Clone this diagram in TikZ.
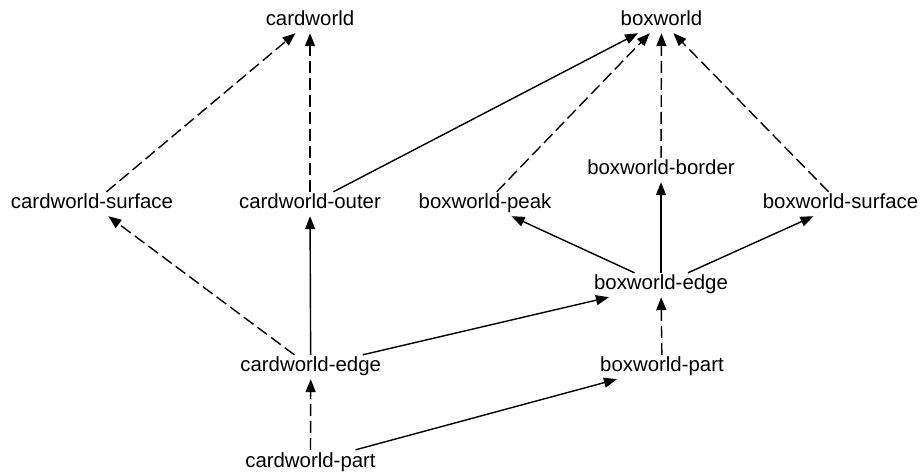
\documentclass[tikz,border=0pt]{standalone}
\usepackage{fontspec}
\setmainfont{Liberation Sans}
\usetikzlibrary{arrows.meta}

\begin{document}
\begin{tikzpicture}[x=1pt, y=-1pt,
  lbl/.style={anchor=base, inner xsep=2pt, inner ysep=0pt,
    text height=14pt, text depth=4pt, minimum height=24pt,
    font=\fontsize{20.4}{24}\selectfont},
  dep/.style={line width=1.4pt, -{Triangle[length=13pt, width=10pt]}},
  weak/.style={dep, dash pattern=on 12pt off 5pt}
]
\useasboundingbox (0,0) rectangle (922,473);

% modules, placed by baseline
\node[lbl] (cw)   at (310,26)    {cardworld};
\node[lbl] (bw)   at (661.5,26)  {boxworld};
\node[lbl] (cws)  at (92,209)    {cardworld-surface};
\node[lbl] (cwo)  at (310,209)   {cardworld-outer};
\node[lbl] (bwp)  at (485,209)   {boxworld-peak};
\node[lbl] (bwb)  at (661,175)   {boxworld-border};
\node[lbl] (bws)  at (840.5,209) {boxworld-surface};
\node[lbl] (bwe)  at (661,290)   {boxworld-edge};
\node[lbl] (cwe)  at (310.7,372) {cardworld-edge};
\node[lbl] (bwpt) at (662,372)   {boxworld-part};
\node[lbl] (cwp)  at (310.5,467) {cardworld-part};

% dependencies
\draw[weak] (cws) -- (cw);
\draw[weak] (cwo) -- (cw);
\draw[dep]  (cwo) -- (bw);
\draw[weak] (bwp) -- (bw);
\draw[weak] (bwb) -- (bw);
\draw[weak] (bws) -- (bw);
\draw[weak] (cwe) -- (cws);
\draw[dep]  (cwe) -- (cwo);
\draw[dep]  (cwe) -- (bwe);
\draw[dep]  (bwe) -- (bwp);
\draw[dep]  (bwe) -- (bwb);
\draw[dep]  (bwe) -- (bws);
\draw[weak] (bwpt) -- (bwe);
\draw[weak] (cwp) -- (cwe);
\draw[dep]  (cwp) -- (bwpt);
\end{tikzpicture}
\end{document}
